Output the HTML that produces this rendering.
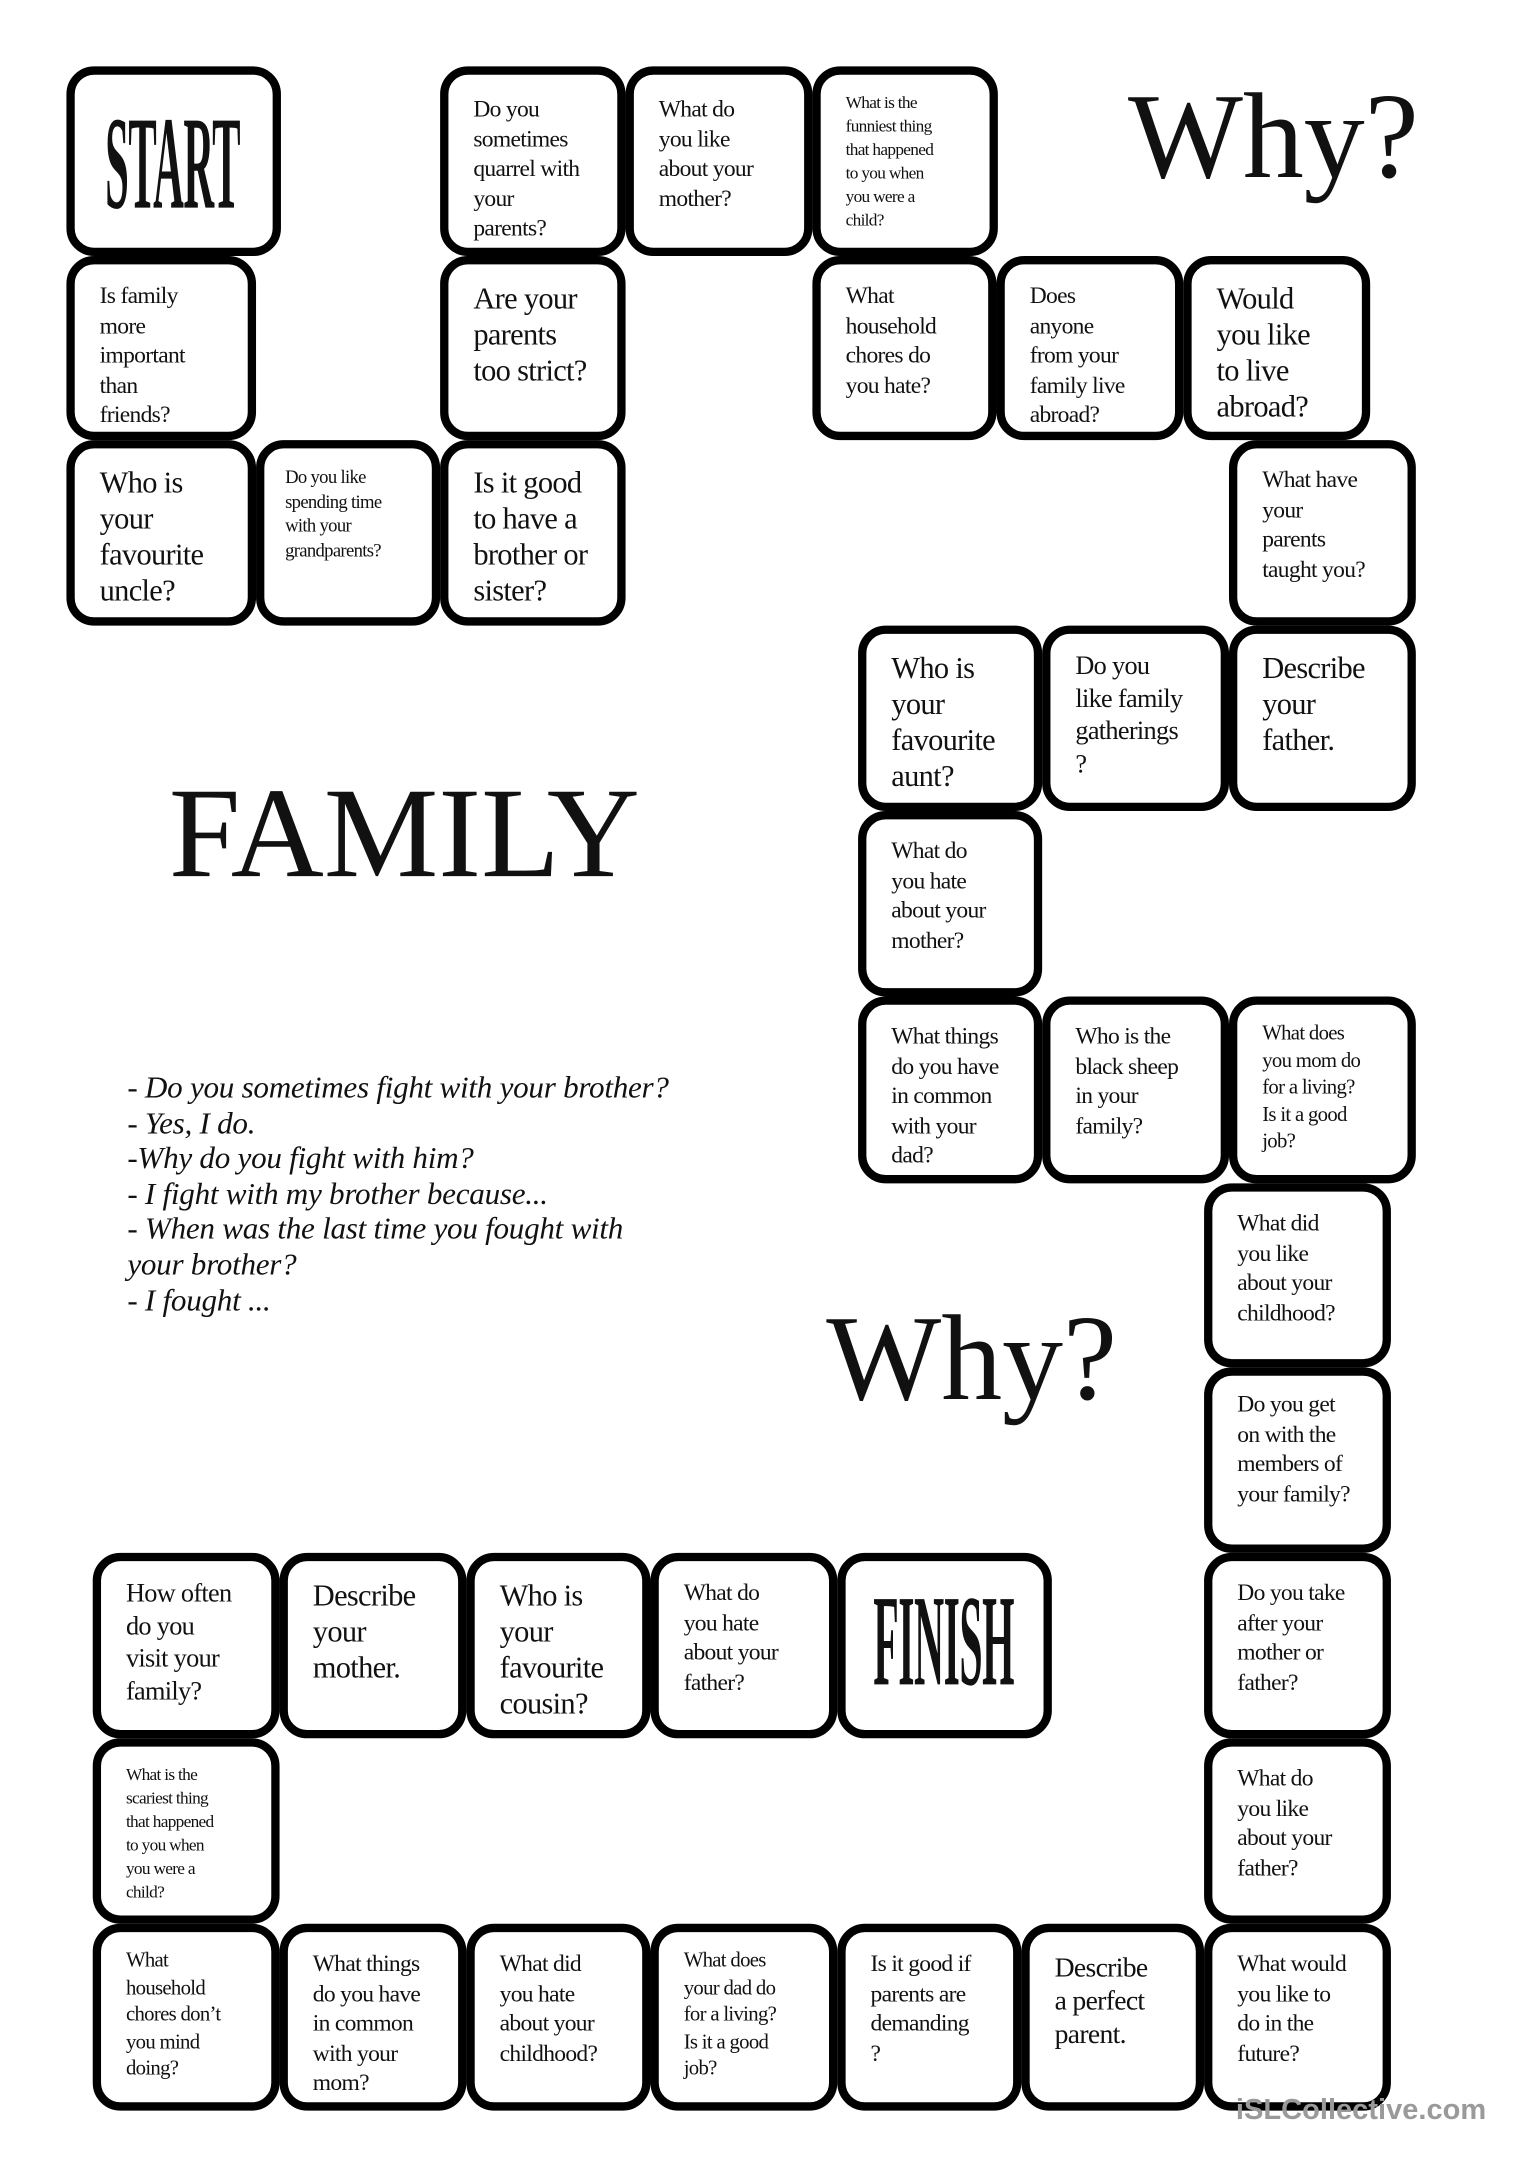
<!DOCTYPE html>
<html><head><meta charset="utf-8"><style>
html,body{margin:0;padding:0;background:#fff;}
body{width:1532px;height:2167px;overflow:hidden;position:relative;}
#c{position:absolute;left:0;top:0;width:1107px;height:1566px;transform:scale(1.384,1.384);transform-origin:0 0;font-family:"Liberation Serif",serif;color:#111;}
.b{position:absolute;border:6px solid #000;border-radius:20px;box-sizing:border-box;background:#fff;padding:12px 8px 0 18px;letter-spacing:-0.5px;}
.l{font-size:22px;line-height:26px;}
.m{font-size:17px;line-height:21.5px;}
.s{font-size:13.5px;line-height:17.5px;}
.xs{font-size:12.5px;line-height:17px;}
.big{position:absolute;font-family:"Liberation Serif",serif;}
.cond{font-weight:bold;font-size:96px;line-height:96px;display:inline-block;transform:scaleX(0.32);transform-origin:0 50%;letter-spacing:-1px;white-space:nowrap;}
.it{position:absolute;left:92px;top:773px;font-style:italic;font-size:22.5px;line-height:25.6px;letter-spacing:-0.2px;}
</style></head><body><div id="c">
<div class="b" style="left:48px;top:48px;width:155px;height:137px;padding:16px 0 0 22px;overflow:hidden;"><span class="cond">START</span></div>
<div class="b m" style="left:48px;top:185px;width:137px;height:133px;">Is family<br>more<br>important<br>than<br>friends?</div>
<div class="b l" style="left:48px;top:318px;width:137px;height:134px;">Who is<br>your<br>favourite<br>uncle?</div>
<div class="b s" style="left:185px;top:318px;width:133px;height:134px;padding-left:15px;">Do you like<br>spending time<br>with your<br>grandparents?</div>
<div class="b m" style="left:318px;top:48px;width:134px;height:137px;padding-top:14px;">Do you<br>sometimes<br>quarrel with<br>your<br>parents?</div>
<div class="b l" style="left:318px;top:185px;width:134px;height:133px;">Are your<br>parents<br>too strict?</div>
<div class="b l" style="left:318px;top:318px;width:134px;height:134px;">Is it good<br>to have a<br>brother or<br>sister?</div>
<div class="b m" style="left:452px;top:48px;width:135px;height:137px;padding-top:14px;">What do<br>you like<br>about your<br>mother?</div>
<div class="b xs" style="left:587px;top:48px;width:134px;height:137px;padding-top:12px;">What is the<br>funniest thing<br>that happened<br>to you when<br>you were a<br>child?</div>
<div class="b m" style="left:587px;top:185px;width:133px;height:133px;">What<br>household<br>chores do<br>you hate?</div>
<div class="b m" style="left:720px;top:185px;width:135px;height:133px;">Does<br>anyone<br>from your<br>family live<br>abroad?</div>
<div class="b l" style="left:855px;top:185px;width:135px;height:133px;">Would<br>you like<br>to live<br>abroad?</div>
<div class="b m" style="left:888px;top:318px;width:135px;height:134px;">What have<br>your<br>parents<br>taught you?</div>
<div class="b l" style="left:620px;top:452px;width:133px;height:134px;">Who is<br>your<br>favourite<br>aunt?</div>
<div class="b" style="left:753px;top:452px;width:135px;height:134px;font-size:19px;line-height:23.5px;">Do you<br>like family<br>gatherings<br>?</div>
<div class="b l" style="left:888px;top:452px;width:135px;height:134px;">Describe<br>your<br>father.</div>
<div class="b m" style="left:620px;top:586px;width:133px;height:134px;">What do<br>you hate<br>about your<br>mother?</div>
<div class="b m" style="left:620px;top:720px;width:133px;height:135px;">What things<br>do you have<br>in common<br>with your<br>dad?</div>
<div class="b m" style="left:753px;top:720px;width:135px;height:135px;">Who is the<br>black sheep<br>in your<br>family?</div>
<div class="b" style="left:888px;top:720px;width:135px;height:135px;font-size:15px;line-height:19.5px;">What does<br>you mom do<br>for a living?<br>Is it a good<br>job?</div>
<div class="b m" style="left:870px;top:855px;width:135px;height:133px;">What did<br>you like<br>about your<br>childhood?</div>
<div class="b m" style="left:870px;top:988px;width:135px;height:134px;padding-top:10px;">Do you get<br>on with the<br>members of<br>your family?</div>
<div class="b m" style="left:870px;top:1122px;width:135px;height:134px;">Do you take<br>after your<br>mother or<br>father?</div>
<div class="b m" style="left:870px;top:1256px;width:135px;height:134px;">What do<br>you like<br>about your<br>father?</div>
<div class="b m" style="left:870px;top:1390px;width:135px;height:135px;">What would<br>you like to<br>do in the<br>future?</div>
<div class="b m" style="left:67px;top:1122px;width:135px;height:134px;font-size:19px;line-height:23.5px;">How often<br>do you<br>visit your<br>family?</div>
<div class="b l" style="left:202px;top:1122px;width:135px;height:134px;">Describe<br>your<br>mother.</div>
<div class="b l" style="left:337px;top:1122px;width:133px;height:134px;">Who is<br>your<br>favourite<br>cousin?</div>
<div class="b m" style="left:470px;top:1122px;width:135px;height:134px;">What do<br>you hate<br>about your<br>father?</div>
<div class="b" style="left:605px;top:1122px;width:155px;height:134px;padding:10px 0 0 20px;overflow:hidden;"><span class="cond" style="font-size:94px;">FINISH</span></div>
<div class="b xs" style="left:67px;top:1256px;width:135px;height:134px;padding-top:12px;">What is the<br>scariest thing<br>that happened<br>to you when<br>you were a<br>child?</div>
<div class="b" style="left:67px;top:1390px;width:135px;height:135px;font-size:15px;line-height:19.5px;">What<br>household<br>chores don’t<br>you mind<br>doing?</div>
<div class="b m" style="left:202px;top:1390px;width:135px;height:135px;">What things<br>do you have<br>in common<br>with your<br>mom?</div>
<div class="b m" style="left:337px;top:1390px;width:133px;height:135px;">What did<br>you hate<br>about your<br>childhood?</div>
<div class="b" style="left:470px;top:1390px;width:135px;height:135px;font-size:15px;line-height:19.5px;">What does<br>your dad do<br>for a living?<br>Is it a good<br>job?</div>
<div class="b m" style="left:605px;top:1390px;width:133px;height:135px;">Is it good if<br>parents are<br>demanding<br>?</div>
<div class="b" style="left:738px;top:1390px;width:132px;height:135px;font-size:20px;line-height:24px;padding-top:14px;">Describe<br>a perfect<br>parent.</div>
<div class="big" style="left:815px;top:45px;font-size:88px;line-height:110px;">Why?</div>
<div class="big" style="left:597px;top:928px;font-size:88px;line-height:110px;">Why?</div>
<div class="big" style="left:122px;top:550px;font-size:93px;line-height:105px;">FAMILY</div>
<div class="it">- Do you sometimes fight with your brother?<br>- Yes, I do.<br>-Why do you fight with him?<br>- I fight with my brother because...<br>- When was the last time you fought with<br>your brother?<br>- I fought ...</div>
<div class="big" style="left:893px;top:1513px;font-family:'Liberation Sans',sans-serif;font-size:21px;color:#9a9a9a;font-weight:bold;">iSLCollective.com</div>
</div></body></html>
